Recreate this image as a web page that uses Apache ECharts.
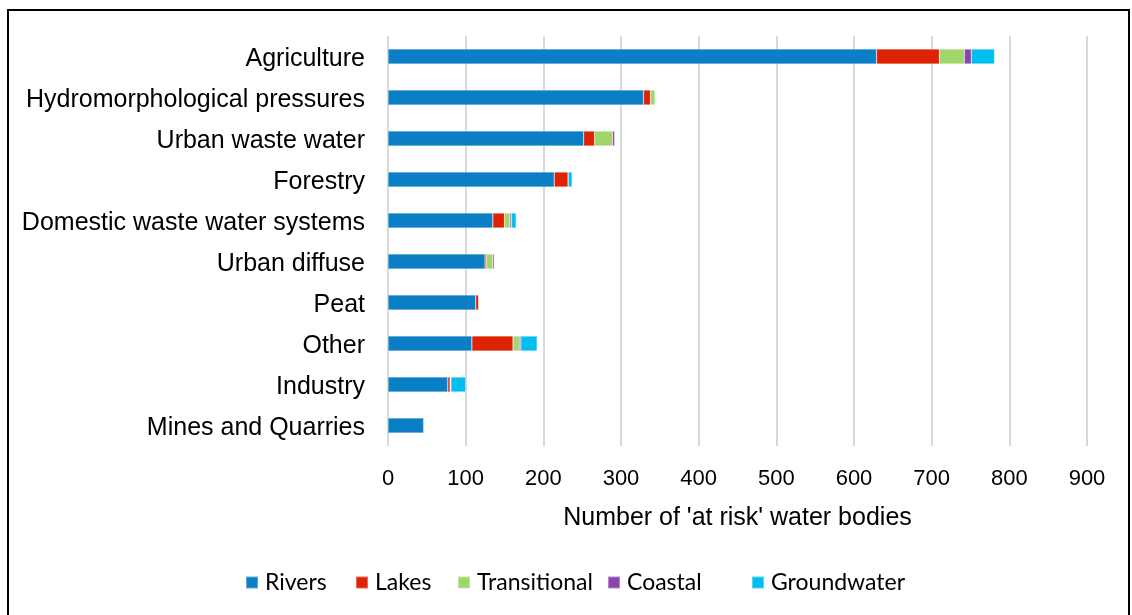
<!DOCTYPE html>
<html>
<head>
<meta charset="utf-8">
<script src="https://cdn.jsdelivr.net/npm/echarts@6/dist/echarts.min.js"></script>
<style>
  html, body { margin: 0; padding: 0; background: #ffffff; }
  #chart { width: 1132px; height: 615px; }
</style>
</head>
<body>
<div id="chart"></div>
<script>
// Pressures on 'at risk' water bodies, by water body type
const categories = [
  'Agriculture',
  'Hydromorphological pressures',
  'Urban waste water',
  'Forestry',
  'Domestic waste water systems',
  'Urban diffuse',
  'Peat',
  'Other',
  'Industry',
  'Mines and Quarries'
];
const rivers       = [629, 329, 252, 214, 135, 125, 113, 108, 77, 46];
const lakes        = [81,   9,  14,  18,  15,   2,   4,  53,  3,  1];
const transitional = [32,   6,  23,   0,   7,   8,   0,   8,  1,  0];
const coastal      = [9,    0,   3,   0,   2,   2,   0,   2,  0,  0];
const groundwater  = [30,   0,   0,   5,   6,   0,   0,  21, 19,  0];

const seriesNames  = ['Rivers', 'Lakes', 'Transitional', 'Coastal', 'Groundwater'];
const seriesValues = [rivers, lakes, transitional, coastal, groundwater];
const colors       = ['#0A7FC5', '#DD2303', '#9FD66A', '#8A45AA', '#02BDEF'];
const xTicks       = [0, 100, 200, 300, 400, 500, 600, 700, 800, 900];

// legend entries placed individually to keep their spacing
const legendLeft = [240, 350, 452, 602, 746];

const chart = echarts.init(document.getElementById('chart'));

const labelFont = '"Liberation Sans", Arial, sans-serif';
const legendFont = 'Lato, "Noto Sans", sans-serif';

chart.setOption({
  animation: false,
  backgroundColor: '#ffffff',
  color: colors,
  graphic: [{
    type: 'rect',
    shape: { x: 8, y: 10, width: 1121, height: 640 },
    style: { fill: 'none', stroke: '#000000', lineWidth: 2 },
    silent: true
  }],
  grid: { left: 388, right: 45, top: 36, bottom: 169, containLabel: false },
  xAxis: {
    type: 'value',
    min: xTicks[0],
    max: xTicks[xTicks.length - 1],
    interval: 100,
    name: "Number of 'at risk' water bodies",
    nameLocation: 'middle',
    nameGap: 60,
    nameTextStyle: { fontFamily: labelFont, fontSize: 25, color: '#000000' },
    axisLine: { show: false },
    axisTick: { show: false },
    axisLabel: { fontFamily: labelFont, fontSize: 22, color: '#000000', margin: 22 },
    splitLine: { show: true, lineStyle: { color: '#D9D9D9', width: 2 } }
  },
  yAxis: {
    type: 'category',
    data: categories,
    inverse: true,
    axisLine: { show: false },
    axisTick: { show: false },
    axisLabel: {
      margin: 23,
      formatter: (v) => '{c|' + v + '}',
      rich: {
        c: { fontFamily: labelFont, fontSize: 25, color: '#000000', padding: [6, 0, 0, 0] }
      }
    }
  },
  legend: seriesNames.map((name, i) => ({
    data: [name],
    left: legendLeft[i],
    top: 566,
    itemWidth: 12,
    itemHeight: 12,
    icon: 'rect',
    itemGap: 0,
    textStyle: { fontFamily: legendFont, fontSize: 23, color: '#000000', padding: [0, 0, 0, 2] }
  })),
  series: seriesNames.map((name, i) => ({
    name: name,
    type: 'bar',
    stack: 'total',
    barWidth: 15,
    data: seriesValues[i],
    itemStyle: { color: colors[i], borderColor: 'rgba(255,255,255,0.35)', borderWidth: 0.6 }
  }))
});
</script>
</body>
</html>
